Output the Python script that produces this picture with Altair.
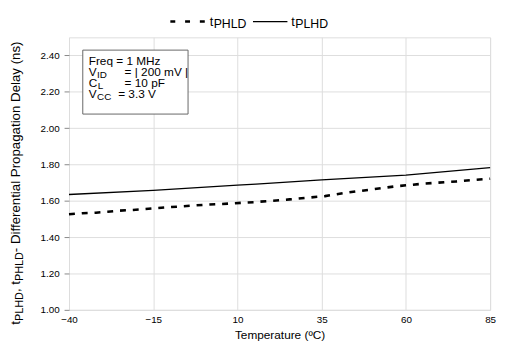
import altair as alt
import pandas as pd

# ---- data ----
temp_plhd = [-40, -15, 10, 15.5, 35, 60, 85]
plhd = [1.635, 1.658, 1.687, 1.692, 1.716, 1.742, 1.783]

temp_phld = [-40, -36, -32, -28.5, -25, -21, -17.5, -13.5, -10, -6, -2.5, 1, 4.5,
             8.5, 12, 15, 25.5, 36, 42, 49.5, 57, 65.5, 75, 85]
phld = [1.526, 1.532, 1.535, 1.540, 1.546, 1.550, 1.555, 1.561, 1.566, 1.570, 1.575,
        1.579, 1.582, 1.586, 1.590, 1.593, 1.608, 1.626, 1.644, 1.662, 1.680, 1.695,
        1.707, 1.722]

x_ticks = [-40, -15, 10, 35, 60, 85]
y_ticks = [1.0, 1.2, 1.4, 1.6, 1.8, 2.0, 2.2, 2.4]

box_lines = [
    [("Freq = 1 MHz", False)],
    [("V", False), ("ID", True), ("= | 200 mV |", False)],
    [("C", False), ("L", True), ("= 10 pF", False)],
    [("V", False), ("CC", True), ("= 3.3 V", False)],
]
legend_names = [("t", "PHLD"), ("t", "PLHD")]
y_title = [("t", False), ("PLHD", True), (", t", False), ("PHLD", True),
           (" - Differential Propagation Delay (ns)", False)]
x_title = "Temperature (ºC)"

FONT = "Liberation Sans"
W, H = 428, 277

# Arial / Liberation Sans advance widths (per 1000 em)
AW = {' ': 278, ',': 278, '-': 333, '(': 333, ')': 333, '.': 278, '=': 584, '|': 260,
      'º': 365, 'A': 667, 'C': 722, 'D': 722, 'F': 611, 'H': 722, 'I': 278, 'L': 556,
      'M': 833, 'P': 667, 'V': 667, 'T': 611, 'a': 556, 'c': 500, 'e': 556, 'f': 278,
      'g': 556, 'i': 222, 'l': 222, 'm': 833, 'n': 556, 'o': 556, 'p': 556, 'q': 556,
      'r': 333, 's': 500, 't': 278, 'u': 556, 'y': 500, 'z': 500}


def tw(s, size):
    return sum(AW.get(c, 556) for c in s) * size / 1000.0


dummy = pd.DataFrame({"k": [0]})
layers = []

df1 = pd.DataFrame({"T": temp_plhd, "v": plhd})
df2 = pd.DataFrame({"T": temp_phld, "v": phld})

xenc = alt.X("T:Q", scale=alt.Scale(domain=[-40, 85], nice=False),
             axis=alt.Axis(values=x_ticks, format="d", title=x_title, grid=True,
                           ticks=False, domain=False, labelPadding=5,
                           titlePadding=5, titleFontWeight="normal",
                           titleFontSize=12, labelFlush=False))
yenc = alt.Y("v:Q", scale=alt.Scale(domain=[1.0, 2.5], nice=False, zero=False),
             axis=alt.Axis(values=y_ticks, format=".2f", title=None, grid=True,
                           ticks=True, tickSize=5, domain=False, labelPadding=5))

solid = alt.Chart(df1).mark_line(color="black", strokeWidth=1.3).encode(x=xenc, y=yenc)
dashed = alt.Chart(df2).mark_line(color="black", strokeWidth=2.6,
                                   strokeDash=[6, 7]).encode(x=xenc, y=yenc)
layers += [solid, dashed]

# annotation box
layers.append(alt.Chart(dummy).mark_rect(fill="white", stroke="#666", strokeWidth=1).encode(
    x=alt.value(14), x2=alt.value(121), y=alt.value(13), y2=alt.value(78)))

BS = 12
SS = 10
eq_x = [None, 56.5, 56.5, 50]
base_y = [28.3, 39.5, 50.7, 61.9]
for i, line in enumerate(box_lines):
    x = 20.0
    for j, (txt, sub) in enumerate(line):
        if j == 2 and eq_x[i] is not None:
            x = eq_x[i]
        size = SS if sub else BS
        y = base_y[i] + (2.0 if sub else 0)
        layers.append(alt.Chart(dummy).mark_text(
            text=txt, font=FONT, fontSize=size, align="left", baseline="alphabetic",
            color="black").encode(x=alt.value(x), y=alt.value(y)))
        x += tw(txt, size) + (0.5 if not sub else 0)

# legend (above plot)
leg = [(103, 138, [5, 10], 2.6, 143), (187, 222, None, 1.3, 226)]
for (x0, x1, dash, sw, tx), (t, sub) in zip(leg, legend_names):
    kw = dict(color="black", strokeWidth=sw)
    if dash:
        kw["strokeDash"] = dash
    layers.append(alt.Chart(dummy).mark_rule(**kw).encode(
        x=alt.value(x0), x2=alt.value(x1), y=alt.value(-16)))
    layers.append(alt.Chart(dummy).mark_text(
        text=t, font=FONT, fontSize=13, align="left", baseline="alphabetic",
        color="black").encode(x=alt.value(tx), y=alt.value(-12)))
    layers.append(alt.Chart(dummy).mark_text(
        text=sub, font=FONT, fontSize=12.5, align="left", baseline="alphabetic",
        color="black").encode(x=alt.value(tx + 4), y=alt.value(-9)))

# rotated y-axis title with subscripts
NS, SUBS = 13.5, 11
total = sum(tw(t, SUBS if s else NS) for t, s in y_title)
y_start = 146 + total / 2
bx = -49.5
for txt, sub in y_title:
    size = SUBS if sub else NS
    layers.append(alt.Chart(dummy).mark_text(
        text=txt, font=FONT, fontSize=size, align="left", baseline="alphabetic",
        angle=270, color="black").encode(
        x=alt.value(bx + (3 if sub else 0)), y=alt.value(y_start)))
    y_start -= tw(txt, size)

chart = alt.layer(*layers).properties(
    width=W, height=H,
    autosize=alt.AutoSizeParams(type="none"),
    padding={"left": 62, "top": 27, "right": 7, "bottom": 39},
).configure_view(stroke="#444", strokeWidth=1).configure_axis(
    labelFont=FONT, labelFontSize=12, labelColor="black",
    titleFont=FONT, titleFontSize=12, titleFontWeight="normal", titleColor="black",
    gridColor="#8c8c8c", gridWidth=1, gridOpacity=1, tickColor="#555",
).configure(background="white")

chart.save("out.html", embed_options={"renderer": "svg", "actions": False})
